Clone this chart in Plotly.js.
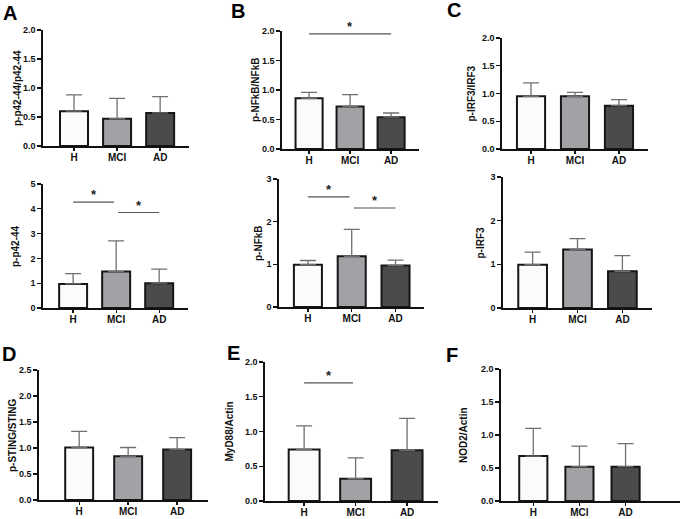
<!DOCTYPE html>
<html>
<head>
<meta charset="utf-8">
<script src="https://cdn.plot.ly/plotly-3.0.1.min.js"></script>
<style>html,body{margin:0;padding:0;background:#fff}#chart{width:685px;height:519px}</style>
</head>
<body>
<div id="chart"></div>
<script>
// ---- Data ----
const groups = ['H', 'MCI', 'AD'];

const pP4244Ratio = [0.60, 0.47, 0.57];
const pP4244RatioErr = [0.28, 0.35, 0.28];

const pP4244 = [0.97, 1.47, 1.00];
const pP4244Err = [0.42, 1.24, 0.57];

const pNFkBRatio = [0.86, 0.72, 0.54];
const pNFkBRatioErr = [0.10, 0.20, 0.07];

const pNFkB = [0.99, 1.19, 0.97];
const pNFkBErr = [0.10, 0.63, 0.13];

const pIRF3Ratio = [0.95, 0.95, 0.78];
const pIRF3RatioErr = [0.24, 0.07, 0.11];

const pIRF3 = [0.99, 1.34, 0.84];
const pIRF3Err = [0.29, 0.25, 0.36];

const pSTINGRatio = [1.01, 0.84, 0.97];
const pSTINGRatioErr = [0.31, 0.17, 0.23];

const myD88Actin = [0.74, 0.32, 0.73];
const myD88ActinErr = [0.34, 0.30, 0.46];

const nod2Actin = [0.68, 0.52, 0.52];
const nod2ActinErr = [0.42, 0.31, 0.35];

// significance brackets: [fromIndex, toIndex, lineY]
const sigA2 = [[0, 0.95, 4.27], [1.05, 2, 3.85]];
const sigB1 = [[0, 2, 1.95]];
const sigB2 = [[0, 0.95, 2.58], [1.05, 2, 2.32]];
const sigE = [[0, 0.95, 1.70]];

const yTitles = ['p-p42-44/p42-44', 'p-p42-44', 'p-NFkB/NFkB', 'p-NFkB', 'p-IRF3/IRF3', 'p-IRF3', 'p-STING/STING', 'MyD88/Actin', 'NOD2/Actin'];
const panelLetters = ['A', 'B', 'C', 'D', 'E', 'F'];

// ---- Layout geometry (pixels) ----
const W = 685, H = 519;
const panels = [
  {vals: pP4244Ratio, err: pP4244RatioErr, px: [43, 189], py: [30, 146], yr: [0, 2], dt: 0.5, fmt: '.1f', xr: [-0.72, 2.67], bw: 0.65, tx: 17, sig: []},
  {vals: pP4244, err: pP4244Err, px: [43, 188], py: [184, 308], yr: [0, 5], dt: 1, fmt: 'd', xr: [-0.70, 2.67], bw: 0.65, tx: 15, sig: sigA2},
  {vals: pNFkBRatio, err: pNFkBRatioErr, px: [282, 419], py: [31, 149], yr: [0, 2], dt: 0.5, fmt: '.1f', xr: [-0.66, 2.68], bw: 0.66, tx: 255, sig: sigB1},
  {vals: pNFkB, err: pNFkBErr, px: [279, 424], py: [179, 307], yr: [0, 3], dt: 1, fmt: 'd', xr: [-0.66, 2.65], bw: 0.64, tx: 258, sig: sigB2},
  {vals: pIRF3Ratio, err: pIRF3RatioErr, px: [502, 648], py: [38, 149], yr: [0, 2], dt: 0.5, fmt: '.1f', xr: [-0.66, 2.66], bw: 0.64, tx: 471, sig: []},
  {vals: pIRF3, err: pIRF3Err, px: [503, 652], py: [177, 308], yr: [0, 3], dt: 1, fmt: 'd', xr: [-0.66, 2.66], bw: 0.64, tx: 480, sig: []},
  {vals: pSTINGRatio, err: pSTINGRatioErr, px: [39, 208], py: [370, 500], yr: [0, 2.5], dt: 0.5, fmt: '.1f', xr: [-0.82, 2.63], bw: 0.57, tx: 12, sig: []},
  {vals: myD88Actin, err: myD88ActinErr, px: [265, 438], py: [362, 501], yr: [0, 2], dt: 0.5, fmt: '.1f', xr: [-0.76, 2.6], bw: 0.6, tx: 229, sig: sigE},
  {vals: nod2Actin, err: nod2ActinErr, px: [501, 680], py: [369, 501], yr: [0, 2], dt: 0.5, fmt: '.1f', xr: [-0.70, 3.18], bw: 0.61, tx: 463, sig: []}
];
const letterPos = [[10, 13], [238, 11], [454, 10], [9, 354], [233, 353], [452, 355]];

const fillColors = ['#fbfbfb', '#a2a2a6', '#4b4b4b'];
const FONT = 'Liberation Sans, Arial, Helvetica, sans-serif';

const traces = [];
const layout = {
  width: W, height: H,
  margin: {l: 0, r: 0, t: 0, b: 0},
  paper_bgcolor: '#fff', plot_bgcolor: 'rgba(0,0,0,0)',
  showlegend: false,
  font: {family: FONT, color: '#111'},
  shapes: [], annotations: []
};

panels.forEach((p, i) => {
  const n = i + 1;
  const xa = n === 1 ? 'x' : 'x' + n;
  const ya = n === 1 ? 'y' : 'y' + n;
  const xk = n === 1 ? 'xaxis' : 'xaxis' + n;
  const yk = n === 1 ? 'yaxis' : 'yaxis' + n;
  traces.push({
    type: 'bar', x: groups, y: p.vals, xaxis: xa, yaxis: ya,
    width: p.bw,
    marker: {color: fillColors, line: {color: '#161616', width: 2}},
    error_y: {type: 'data', symmetric: false, array: p.err, arrayminus: [0, 0, 0],
              color: '#707070', thickness: 1.3, width: 8},
    hoverinfo: 'skip'
  });
  layout[xk] = {
    domain: [p.px[0] / W, p.px[1] / W], anchor: ya,
    type: 'category', range: p.xr,
    showline: true, linecolor: '#111', linewidth: 1.6,
    ticks: 'outside', ticklen: 3, tickwidth: 1.3, tickcolor: '#111',
    ticklabelstandoff: -2,
    showgrid: false, zeroline: false, fixedrange: true,
    tickfont: {family: FONT, size: 10, color: '#111', weight: 'bold'}
  };
  const ticks = [];
  for (let v = p.yr[0]; v <= p.yr[1] + 1e-9; v += p.dt) ticks.push(+v.toFixed(2));
  layout[yk] = {
    domain: [1 - p.py[1] / H, 1 - p.py[0] / H], anchor: xa,
    range: p.yr, tickvals: ticks, tickformat: p.fmt,
    showline: true, linecolor: '#111', linewidth: 1.6,
    ticks: 'outside', ticklen: 4, tickwidth: 1.3, tickcolor: '#111',
    showgrid: false, zeroline: false, fixedrange: true,
    tickfont: {family: FONT, size: 9, color: '#111', weight: 'bold'}
  };
  layout.annotations.push({
    text: yTitles[i], xref: 'paper', yref: 'paper',
    x: p.tx / W, y: 1 - ((p.py[0] + p.py[1]) / 2) / H,
    xanchor: 'center', yanchor: 'middle', textangle: -90, showarrow: false,
    font: {family: FONT, size: 10, color: '#111', weight: 'bold'}
  });
  p.sig.forEach(s => {
    layout.shapes.push({type: 'line', xref: xa, yref: ya, x0: s[0], x1: s[1], y0: s[2], y1: s[2],
      line: {color: '#555', width: 1.2}});
    layout.annotations.push({text: '*', xref: xa, yref: ya, x: (s[0] + s[1]) / 2, y: s[2],
      xanchor: 'center', yanchor: 'bottom', yshift: -2, showarrow: false,
      font: {family: FONT, size: 13, color: '#222', weight: 'bold'}});
  });
});

panelLetters.forEach((L, i) => {
  layout.annotations.push({
    text: L, xref: 'paper', yref: 'paper',
    x: letterPos[i][0] / W, y: 1 - letterPos[i][1] / H,
    xanchor: 'center', yanchor: 'middle', showarrow: false,
    font: {family: FONT, size: 20, color: '#000', weight: 'bold'}
  });
});

Plotly.newPlot('chart', traces, layout, {displayModeBar: false, staticPlot: true});
</script>
</body>
</html>
